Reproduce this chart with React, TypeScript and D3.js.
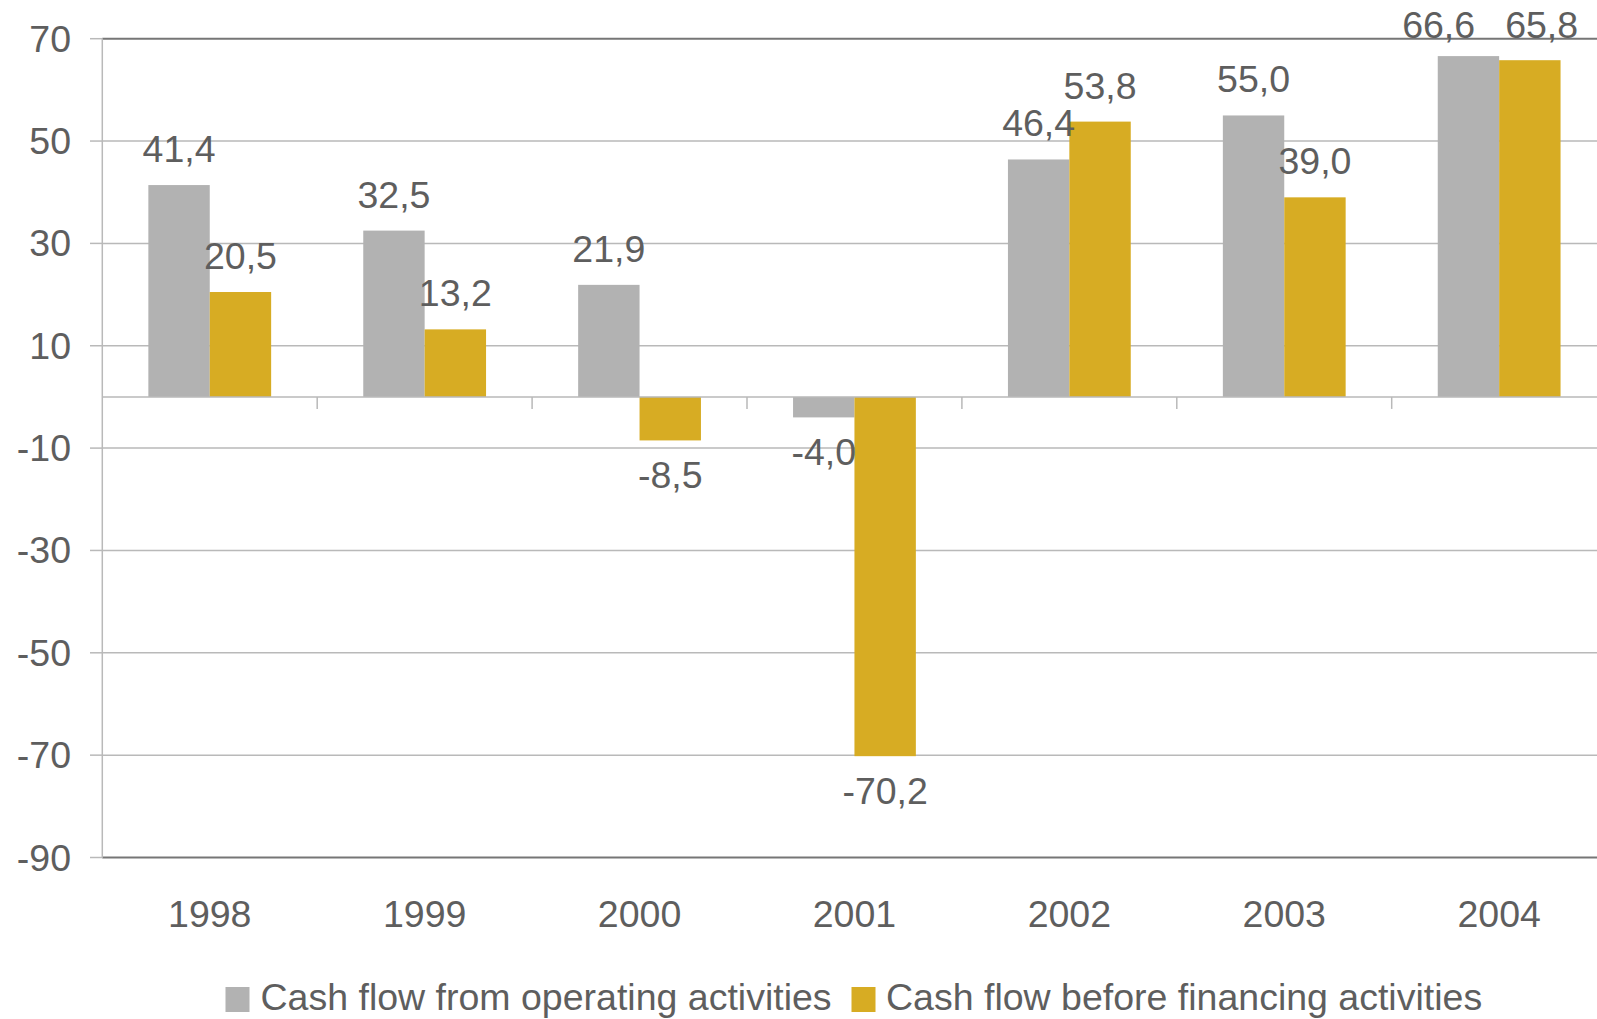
import React from "react";
import * as d3 from "d3";

const years = ["1998", "1999", "2000", "2001", "2002", "2003", "2004"];
const seriesNames = ["Cash flow from operating activities", "Cash flow before financing activities"];
const operating = [41.4, 32.5, 21.9, -4.0, 46.4, 55.0, 66.6];
const beforeFinancing = [20.5, 13.2, -8.5, -70.2, 53.8, 39.0, 65.8];
const yTicks = [70, 50, 30, 10, -10, -30, -50, -70, -90];
const colors = ["#b2b2b2", "#d7ac23"];

const W = 1597;
const H = 1019;
const plotLeft = 102.3;
const bandW = 214.9;
const yTop = 38.7;
const yBottom = 857.5;
const FONT = "'Liberation Sans', Arial, sans-serif";
const FS = 37.5;
const TXT = "#5e5e5e";

const fmt = (v: number) => v.toFixed(1).replace(".", ",");

export default function App() {
  const x0 = d3.scaleBand<string>().domain(years).range([plotLeft, plotLeft + bandW * years.length]).padding(0);
  const x1 = d3.scaleBand<string>().domain(seriesNames).range([0, x0.bandwidth()]).paddingInner(0).paddingOuter(0.75);
  const y = d3.scaleLinear().domain([-90, 70]).range([yBottom, yTop]);
  const values = [operating, beforeFinancing];
  const bw = x1.bandwidth();
  const charW = (s: string) => s.split("").reduce((a, c) => a + (c === "," ? 0.278 : c === "-" ? 0.333 : 0.556), 0) * FS;

  const bars: any[] = [];
  const labels: any[] = [];
  years.forEach((yr, i) => {
    const catLabels: any[] = [];
    values.forEach((vals, s) => {
      const v = vals[i];
      const bx = (x0(yr) as number) + (x1(seriesNames[s]) as number);
      const y0 = y(0);
      const yv = y(v);
      bars.push(
        <rect key={`b${i}-${s}`} x={bx} y={Math.min(y0, yv)} width={bw} height={Math.abs(yv - y0)} fill={colors[s]} />
      );
      const t = fmt(v);
      let ly = v >= 0 ? yv - 23 : yv + 48;
      ly = Math.max(ly, 37.5);
      catLabels.push({ t, cx: bx + bw / 2, ly, w: charW(t), s });
    });
    const [a, b] = catLabels;
    if (Math.abs(a.ly - b.ly) < 27 && a.cx + a.w / 2 + 8 > b.cx - b.w / 2) {
      const mid = (a.cx + b.cx) / 2;
      a.cx = mid - 24 - a.w / 2;
      b.cx = mid + 6 + b.w / 2;
    }
    catLabels.forEach((l) =>
      labels.push(
        <text key={`l${i}-${l.s}`} x={l.cx} y={l.ly} textAnchor="middle" fontSize={FS} fill={TXT} fontFamily={FONT}>
          {l.t}
        </text>
      )
    );
  });

  const xEnd = plotLeft + bandW * years.length;

  return (
    <svg width={W} height={H} style={{ position: "absolute", left: 0, top: 0, background: "#fff" }}>
      <rect x={0} y={0} width={W} height={H} fill="#fff" />
      {yTicks.map((t) => (
        <g key={`g${t}`}>
          <line
            x1={plotLeft}
            x2={xEnd}
            y1={y(t)}
            y2={y(t)}
            stroke={t === 70 || t === -90 ? "#767676" : "#b9b9b9"}
            strokeWidth={t === 70 || t === -90 ? 2 : 1.5}
          />
          <line x1={90} x2={plotLeft} y1={y(t)} y2={y(t)} stroke="#b9b9b9" strokeWidth={1.5} />
          <text x={71} y={y(t) + 13} textAnchor="end" fontSize={FS} fill={TXT} fontFamily={FONT}>
            {t}
          </text>
        </g>
      ))}
      <line x1={plotLeft} x2={plotLeft} y1={yTop} y2={yBottom} stroke="#b9b9b9" strokeWidth={1.5} />
      {bars}
      <line x1={plotLeft} x2={xEnd} y1={y(0)} y2={y(0)} stroke="#b9b9b9" strokeWidth={1.5} />
      {years.slice(1).map((yr) => (
        <line key={`t${yr}`} x1={x0(yr)} x2={x0(yr)} y1={y(0)} y2={y(0) + 12} stroke="#b9b9b9" strokeWidth={1.5} />
      ))}
      {labels}
      {years.map((yr) => (
        <text key={`c${yr}`} x={(x0(yr) as number) + bandW / 2} y={927} textAnchor="middle" fontSize={FS} fill={TXT} fontFamily={FONT}>
          {yr}
        </text>
      ))}
      <rect x={225.5} y={987} width={24} height={25} fill={colors[0]} />
      <text x={260.5} y={1010} fontSize={FS} fill={TXT} fontFamily={FONT}>
        {seriesNames[0]}
      </text>
      <rect x={851.5} y={987} width={24} height={25} fill={colors[1]} />
      <text x={886} y={1010} fontSize={FS} fill={TXT} fontFamily={FONT}>
        {seriesNames[1]}
      </text>
    </svg>
  );
}
